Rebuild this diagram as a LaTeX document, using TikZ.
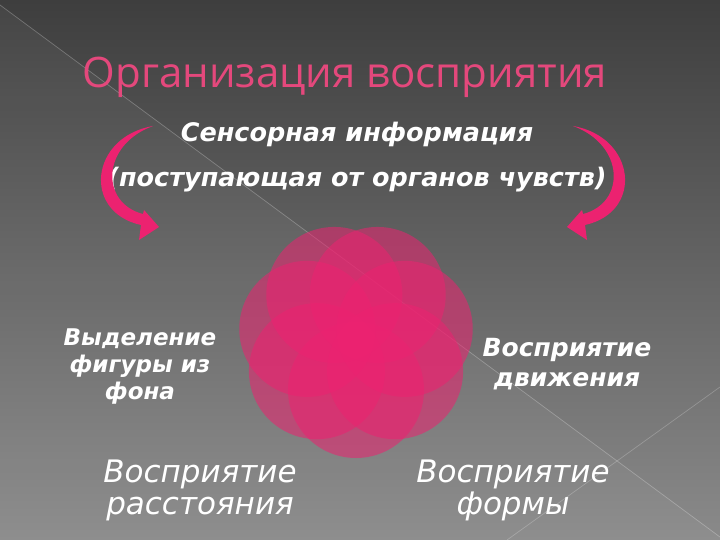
\documentclass[tikz,border=0pt]{standalone}
\usepackage{fontspec}
\setmainfont{DejaVu Sans}
\newfontfamily\headfont{Open Sans}
\usetikzlibrary{positioning}

\definecolor{slidetop}{RGB}{62,62,62}
\definecolor{slidebottom}{RGB}{138,138,138}
\definecolor{rosepink}{RGB}{236,34,112}
\definecolor{headpink}{RGB}{228,72,124}

\begin{document}
\begin{tikzpicture}[x=1pt,y=-1pt,
   heading/.style={text=headpink,font=\headfont\fontsize{42}{46}\selectfont,inner sep=0pt},
   sensor/.style={text=white,font=\bfseries\itshape\fontsize{25.5}{30}\selectfont,inner sep=0pt},
   sidelabel/.style={text=white,font=\bfseries\itshape\fontsize{23}{27}\selectfont,align=center,inner sep=0pt},
   lowlabel/.style={text=white,font=\itshape\fontsize{31}{32}\selectfont,align=center,inner sep=0pt},
   petal/.style={fill=rosepink,fill opacity=0.55},
   swirl/.style={fill=rosepink}]

   \useasboundingbox (0,0) rectangle (720,540);
   \shade[top color=slidetop,bottom color=slidebottom] (0,0) rectangle (720,540);
   \fill[white,opacity=0.04] (0,5) -- (720,537) -- (720,540) -- (0,540) -- cycle;
   \draw[white,opacity=0.25,line width=0.7pt] (0,5) -- (720,537);
   \draw[white,opacity=0.22,line width=0.7pt] (720,387) -- (507,540);

   \node[heading] (title) at (345,77) {Организация восприятия};
   \node[sensor] (info_1) at (357,134) {Сенсорная информация};
   \node[sensor] (info_2) [below=46pt of info_1.center,anchor=center] {(поступающая от органов чувств)};

   % curved arrows
   \fill[swirl] (153,126) .. controls (90,137) and (82,212) .. (141,225)
      -- (139,240) -- (159,227) -- (144,210) -- (143,214)
      .. controls (100,203) and (101,145) .. (153,126) -- cycle;
   \begin{scope}[xshift=726pt,xscale=-1]
      \fill[swirl] (153,126) .. controls (90,137) and (82,212) .. (141,225)
         -- (139,240) -- (159,227) -- (144,210) -- (143,214)
         .. controls (100,203) and (101,145) .. (153,126) -- cycle;
   \end{scope}

   \coordinate (bloom) at (356,340);
   \foreach \k in {0,...,6}
      \fill[petal] ([shift={(90+\k*51.43:50)}]bloom) circle (68);

   \node[sidelabel] (figure) at (140,367) {Выделение\\фигуры из\\фона};
   \node[sidelabel,font=\bfseries\itshape\fontsize{25}{30}\selectfont] (motion) at (567,364) {Восприятие\\движения};
   \node[lowlabel] (distance) at (200,490) {Восприятие\\расстояния};
   \node[lowlabel] (shape) at (513,490) {Восприятие\\формы};

\end{tikzpicture}
\end{document}
